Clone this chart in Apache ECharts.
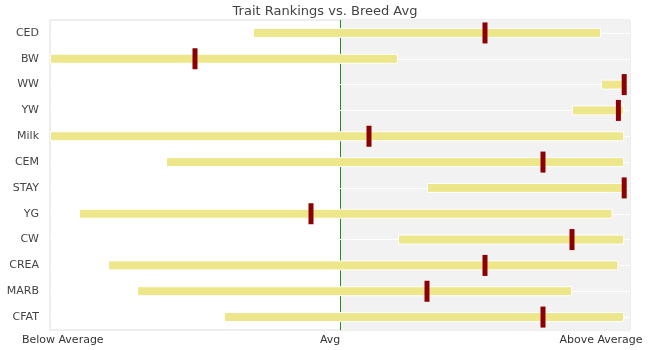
<!DOCTYPE html>
<html>
<head>
<meta charset="utf-8">
<script src="https://cdn.jsdelivr.net/npm/echarts@6/dist/echarts.min.js"></script>
<style>
  html, body { margin: 0; padding: 0; background: #fff; }
  #chart { width: 650px; height: 350px; }
</style>
</head>
<body>
<div id="chart"></div>
<script>
// Traits, listed top to bottom
const traits = ['CED', 'BW', 'WW', 'YW', 'Milk', 'CEM', 'STAY', 'YG', 'CW', 'CREA', 'MARB', 'CFAT'];
// Breed percentile range for each trait (low end / high end)
const rangeLow  = [35, 0, 95, 90, 0, 20, 65, 5, 60, 10, 15, 30];
const rangeHigh = [95, 60, 99, 99, 99, 99, 99, 97, 99, 98, 90, 99];
// This animal's percentile rank for each trait
const animalRank = [75, 25, 99, 98, 55, 85, 99, 45, 90, 75, 65, 85];
// Axis scale and its labels
const scaleTicks = [0, 50, 100];
const scaleLabels = ['Below Average', 'Avg', 'Above Average'];
const labelSpots = [2.2, 48.3, 95];

const font = 'DejaVu Sans';
const chart = echarts.init(document.getElementById('chart'), null, { renderer: 'canvas' });

const spanData = rangeHigh.map((h, i) => h - rangeLow[i]);
const markData = animalRank.map((v, i) => [v, i]);
// one white guide line through the middle of every trait row
const rowLines = traits.map((t) => ({ yAxis: t }));

chart.setOption({
  animation: false,
  title: {
    text: 'Trait Rankings vs. Breed Avg',
    left: 'center',
    top: 0,
    textStyle: { fontFamily: font, fontSize: 13, fontWeight: 'normal', color: '#444' }
  },
  grid: {
    left: 50, right: 20, top: 20, bottom: 20,
    show: true, borderColor: '#ddd', borderWidth: 1, backgroundColor: 'transparent'
  },
  xAxis: {
    type: 'value',
    min: scaleTicks[0],
    max: scaleTicks[scaleTicks.length - 1],
    interval: scaleTicks[1] - scaleTicks[0],
    axisLine: { show: false },
    axisTick: { show: false },
    axisLabel: {
      customValues: labelSpots,
      formatter: (v) => scaleLabels[labelSpots.indexOf(v)] || '',
      fontFamily: font, fontSize: 11, color: '#333', margin: 5
    },
    splitLine: {
      show: true, showMinLine: false, showMaxLine: false,
      lineStyle: { color: '#228B22', width: 1 }
    },
    splitArea: {
      show: true,
      areaStyle: { color: ['rgba(255,255,255,0)', '#f2f2f2'] }
    }
  },
  yAxis: {
    type: 'category',
    data: traits,
    inverse: true,
    axisLine: { show: false },
    axisTick: { show: false },
    axisLabel: { fontFamily: font, fontSize: 11, color: '#444', margin: 11, interval: 0 },
    splitLine: { show: false }
  },
  series: [
    {
      type: 'bar',
      stack: 'range',
      data: rangeLow,
      barWidth: 10,
      itemStyle: { color: 'rgba(0,0,0,0)' },
      silent: true,
      z: 2,
      markLine: {
        silent: true,
        z: 1,
        symbol: 'none',
        label: { show: false },
        lineStyle: { color: '#fff', width: 1, type: 'solid' },
        emphasis: { disabled: true },
        data: rowLines
      }
    },
    {
      type: 'bar',
      stack: 'range',
      data: spanData,
      barWidth: 10,
      z: 3,
      itemStyle: { color: '#EEE68A', borderColor: '#fff', borderWidth: 1 }
    },
    {
      type: 'scatter',
      data: markData,
      symbol: 'rect',
      symbolSize: [5, 21],
      itemStyle: { color: '#8B0000', opacity: 1 },
      z: 5
    }
  ]
});
</script>
</body>
</html>
